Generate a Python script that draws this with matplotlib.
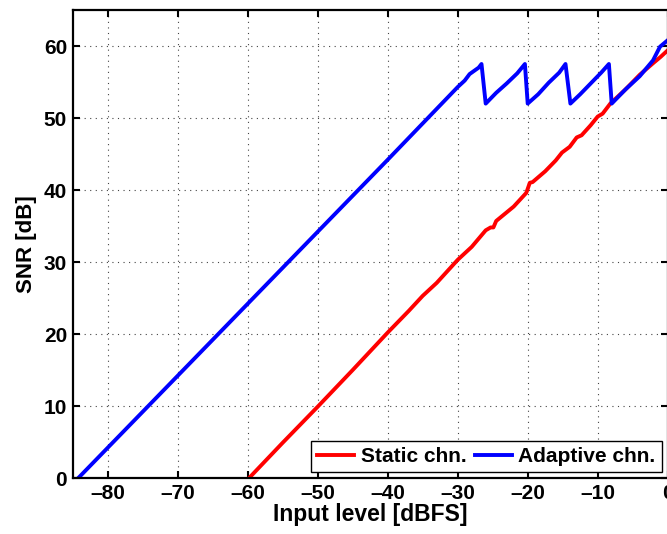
import matplotlib
matplotlib.use('Agg')
from matplotlib import pyplot as plt

# values
static_x = [-59.8, -55, -50, -45, -40, -37, -35, -33, -30, -28, -26, -25.3, -24.9, -24.5,
            -22, -20.2, -19.7, -19.3, -17.5, -16, -15.1, -14, -13.0, -12.3, -11, -10,
            -9.3, -8.2, -6, -4, -2.1, -1, 0]
static_y = [0, 4.9, 9.9, 15.0, 20.2, 23.2, 25.3, 27.1, 30.3, 32.1, 34.4, 34.8, 34.8, 35.7,
            37.7, 39.6, 41.0, 41.1, 42.6, 44.1, 45.2, 46.0, 47.3, 47.6, 49.0, 50.2,
            50.6, 52.0, 54.0, 56.0, 57.6, 58.5, 59.4]

adaptive_x = [-84.2, -60, -40, -30, -29, -28.3, -27, -26.6, -26.0, -24.5, -23, -21.5, -20.4,
              -20.0, -18.5, -17, -15.5, -14.6, -13.9, -12.5, -11, -9.5, -8.4, -8.0,
              -6, -4, -2.1, -1.1, 0]
adaptive_y = [0, 24.2, 44.2, 54.3, 55.2, 56.1, 57.0, 57.5, 52.0, 53.5, 54.8, 56.2, 57.5,
              52.0, 53.3, 54.9, 56.3, 57.5, 52.0, 53.3, 54.8, 56.3, 57.5, 52.0,
              54.0, 55.8, 58.0, 59.9, 60.8]

x_ticks = [-80, -70, -60, -50, -40, -30, -20, -10, 0]
y_ticks = [0, 10, 20, 30, 40, 50, 60]

plt.rcParams['font.family'] = ['Liberation Sans', 'DejaVu Sans']
plt.rcParams['font.weight'] = 'bold'

fig = plt.figure(figsize=(6.67, 5.34), dpi=100)
ax = fig.add_axes([72.7 / 667, 56 / 534, 595 / 667, 468 / 534])

ax.plot(static_x, static_y, color='#ff0000', lw=2.8, label='Static chn.')
ax.plot(adaptive_x, adaptive_y, color='#0000ff', lw=2.8, label='Adaptive chn.')

ax.set_xlim(-85, 0)
ax.set_ylim(0, 65)
ax.set_xticks(x_ticks)
ax.set_yticks(y_ticks)
# MATLAB style short minus
ax.set_xticklabels([('\u2013%d' % -t) if t < 0 else str(t) for t in x_ticks])

ax.grid(True, color='#444444', linestyle=(0, (1, 4)), linewidth=0.8)
ax.tick_params(direction='in', length=5, width=1.5, top=True, right=True,
               labelsize=15, pad=4)
for s in ax.spines.values():
    s.set_linewidth(1.6)

ax.set_xlabel('Input level [dBFS]', fontsize=16.5, fontweight='bold', labelpad=0)
ax.set_ylabel('SNR [dB]', fontsize=16, fontweight='bold', labelpad=5)

leg = ax.legend(loc='lower right', bbox_to_anchor=(0.99, 0.012), borderaxespad=0,
                ncol=2, fancybox=False, edgecolor='black', framealpha=1,
                fontsize=15, handlelength=1.8, handletextpad=0.3, columnspacing=0.4,
                borderpad=0.3)
leg.get_frame().set_linewidth(1.0)

fig.savefig('out.png', dpi=100)
